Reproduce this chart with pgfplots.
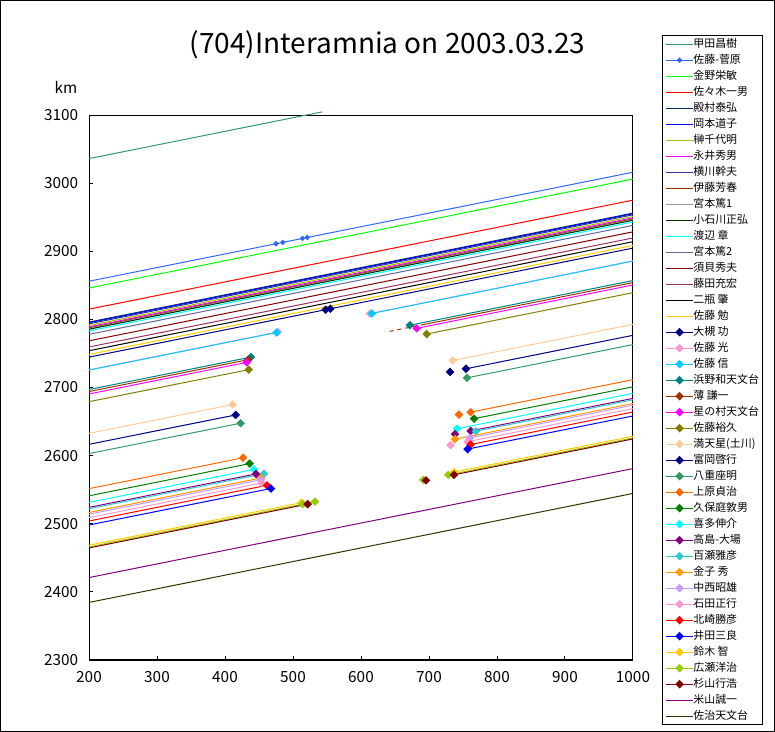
\documentclass[border=0pt]{standalone}
\usepackage{pgfplots}
\pgfplotsset{compat=1.18}
\usepackage{fontspec}
\setmainfont{Noto Sans CJK JP}
\definecolor{c01}{HTML}{339966}
\definecolor{c02}{HTML}{3366FF}
\definecolor{c03}{HTML}{00FF00}
\definecolor{c04}{HTML}{FF0000}
\definecolor{c05}{HTML}{003366}
\definecolor{c06}{HTML}{0000FF}
\definecolor{c07}{HTML}{99CC00}
\definecolor{c08}{HTML}{FF00FF}
\definecolor{c09}{HTML}{333399}
\definecolor{c10}{HTML}{993300}
\definecolor{c11}{HTML}{969696}
\definecolor{c12}{HTML}{003300}
\definecolor{c13}{HTML}{00FFFF}
\definecolor{c14}{HTML}{666699}
\definecolor{c15}{HTML}{800000}
\definecolor{c16}{HTML}{993366}
\definecolor{c17}{HTML}{000000}
\definecolor{c18}{HTML}{FFCC00}
\definecolor{c19}{HTML}{000080}
\definecolor{c20}{HTML}{FF99CC}
\definecolor{c21}{HTML}{00CCFF}
\definecolor{c22}{HTML}{008080}
\definecolor{c23}{HTML}{993300}
\definecolor{c24}{HTML}{FF00FF}
\definecolor{c25}{HTML}{808000}
\definecolor{c26}{HTML}{FFCC99}
\definecolor{c27}{HTML}{000080}
\definecolor{c28}{HTML}{339966}
\definecolor{c29}{HTML}{FF6600}
\definecolor{c30}{HTML}{008000}
\definecolor{c31}{HTML}{00FFFF}
\definecolor{c32}{HTML}{800080}
\definecolor{c33}{HTML}{33CCCC}
\definecolor{c34}{HTML}{FF9900}
\definecolor{c35}{HTML}{CC99FF}
\definecolor{c36}{HTML}{FF99CC}
\definecolor{c37}{HTML}{FF0000}
\definecolor{c38}{HTML}{0000FF}
\definecolor{c39}{HTML}{FFCC00}
\definecolor{c40}{HTML}{99CC00}
\definecolor{c41}{HTML}{800000}
\definecolor{c42}{HTML}{800080}
\definecolor{c43}{HTML}{333300}
\begin{document}
\begin{tikzpicture}
\begin{scope}[shift={(-66.75pt,495pt)}, x=0.75pt, y=-0.75pt]
\draw[line width=0.75pt] (0.5,0.5) rectangle (774.5,731.5);
\node[font=\fontsize{21}{25}\selectfont] at (387.5,45) {(704)Interamnia on 2003.03.23};
\node[font=\fontsize{11.5}{13}\selectfont] at (66,87) {km};
\end{scope}
\begin{axis}[
  at={(0pt,0pt)}, anchor=south west,
  scale only axis, width=408pt, height=408.75pt,
  xmin=200, xmax=1000, ymin=2300, ymax=3100,
  xtick={200,300,...,1000}, ytick={2300,2400,...,3100},
  tick align=inside, xtick pos=left, ytick pos=left, major tick length=3pt,
  tick style={black, line width=0.75pt},
  axis line style={line width=0.75pt},
  clip=false,
  /pgf/number format/1000 sep={}, /pgf/number format/assume math mode=true,
  tick label style={font=\fontsize{11.5}{13}\selectfont, inner sep=0pt},
  yticklabel style={anchor=east, xshift=-8pt},
  xticklabel style={anchor=north, yshift=-8pt},
  every axis plot/.append style={line width=0.75pt},
  dmk/.style={mark=square*, mark size=1.9pt, mark options={rotate=45, solid}},
  legend image code/.code={\draw[mark indices={2}] plot coordinates {(0pt,0pt)(10pt,0pt)(20pt,0pt)};},
  legend cell align=left,
  legend style={at={(1.0524,1.1468)}, anchor=north west, draw=black, line width=0.75pt,
    font=\fontsize{8.2}{9}\selectfont, inner xsep=2.8pt, inner ysep=0.5pt, row sep=0pt,
    nodes={inner sep=0pt, text height=8.5pt, text depth=3.5pt},
    /tikz/every even column/.append style={column sep=2.5pt}},
]
% no-event observers
\addplot[c01] coordinates {(200,3036)(543,3104.6)}; \addlegendentry{甲田昌樹}
\addplot[c02, mark=square*, mark size=1.1pt, mark options={rotate=45}, mark indices={2,3,4,5}] coordinates {(200,2856)(475,2911)(485,2913)(514,2918.8)(521,2920.2)(1000,3016)}; \addlegendentry{佐藤-菅原}
\addplot[c03] coordinates {(200,2846)(1000,3006)}; \addlegendentry{金野栄敏}
\addplot[c04] coordinates {(200,2815)(1000,2975)}; \addlegendentry{佐々木一男}
\addplot[c05] coordinates {(200,2796)(1000,2956)}; \addlegendentry{殿村泰弘}
\addplot[c06] coordinates {(200,2795)(1000,2955)}; \addlegendentry{岡本道子}
\addplot[c07] coordinates {(200,2791)(1000,2951)}; \addlegendentry{榊千代明}
\addplot[c08] coordinates {(200,2789)(1000,2949)}; \addlegendentry{永井秀男}
\addplot[c09] coordinates {(200,2793.5)(1000,2953.5)}; \addlegendentry{横川幹夫}
\addplot[c10] coordinates {(200,2787.5)(1000,2947.5)}; \addlegendentry{伊藤芳春}
\addplot[c11] coordinates {(200,2786.5)(1000,2946.5)}; \addlegendentry{宮本篤1}
\addplot[c12] coordinates {(200,2785.5)(1000,2945.5)}; \addlegendentry{小石川正弘}
\addplot[c13] coordinates {(200,2783)(1000,2943)}; \addlegendentry{渡辺 章}
\addplot[c14] coordinates {(200,2778)(1000,2938)}; \addlegendentry{宮本篤2}
\addplot[c15] coordinates {(200,2768.5)(1000,2928.5)}; \addlegendentry{須貝秀夫}
\addplot[c16] coordinates {(200,2759.5)(1000,2919.5)}; \addlegendentry{藤田充宏}
\addplot[c17] coordinates {(200,2754)(1000,2914)}; \addlegendentry{二瓶 肇}
\addplot[c18] coordinates {(200,2748.5)(1000,2908.5)}; \addlegendentry{佐藤 勉}
% observers with events
\addplot[c19, dmk, mark indices={2}] coordinates {(200,2744.6)(548,2814.2)}; \addlegendentry{大槻 功}
\addplot[c19, dmk, mark indices={1}, forget plot] coordinates {(555,2815.6)(1000,2904.6)};
\addplot[c20, dmk, mark indices={2}] coordinates {(200,2726)(478,2781.6)}; \addlegendentry{佐藤 光}
\addplot[c20, dmk, mark indices={1}, forget plot] coordinates {(613,2808.6)(1000,2886)};
\addplot[c21, dmk, mark indices={2}] coordinates {(200,2725.5)(476,2780.7)}; \addlegendentry{佐藤 信}
\addplot[c21, dmk, mark indices={1}, forget plot] coordinates {(616,2808.7)(1000,2885.5)};
\addplot[c22, dmk, mark indices={2}] coordinates {(200,2697)(438,2744.6)}; \addlegendentry{浜野和天文台}
\addplot[c22, dmk, mark indices={1}, forget plot] coordinates {(672,2791.4)(1000,2857)};
\addplot[c23, dmk, mark indices={2}] coordinates {(200,2694)(434,2740.8)}; \addlegendentry{薄 謙一}
\addplot[c23, dashed, no marks, forget plot] coordinates {(642,2782.4)(694,2792.8)};
\addplot[c23, no marks, forget plot] coordinates {(694,2792.8)(1000,2854)};
\addplot[c24, dmk, mark indices={2}] coordinates {(200,2690.5)(432,2736.9)}; \addlegendentry{星の村天文台}
\addplot[c24, dmk, mark indices={1}, forget plot] coordinates {(682,2786.9)(1000,2850.5)};
\addplot[c25, dmk, mark indices={2}] coordinates {(200,2679.2)(435,2726.2)}; \addlegendentry{佐藤裕久}
\addplot[c25, dmk, mark indices={1}, forget plot] coordinates {(696.6,2778.5)(1000,2839.2)};
\addplot[c26, dmk, mark indices={2}] coordinates {(200,2632.7)(411.3,2675)}; \addlegendentry{満天星(土川)}
\addplot[c26, dmk, mark indices={1}, forget plot] coordinates {(734.8,2739.7)(1000,2792.7)};
\addplot[c27, dmk, mark indices={2}] coordinates {(200,2616.6)(415.7,2659.7)}; \addlegendentry{富岡啓行}
\addplot[c27, dmk, only marks, forget plot] coordinates {(730.9,2722.8)};
\addplot[c27, dmk, mark indices={1}, forget plot] coordinates {(754.4,2727.5)(1000,2776.6)};
\addplot[c28, dmk, mark indices={2}] coordinates {(200,2603)(423,2647.6)}; \addlegendentry{八重座明}
\addplot[c28, dmk, mark indices={1}, forget plot] coordinates {(755.9,2714.2)(1000,2763)};
\addplot[c29, dmk, mark indices={2}] coordinates {(200,2551.5)(426.5,2596.8)}; \addlegendentry{上原貞治}
\addplot[c29, dmk, only marks, forget plot] coordinates {(744.1,2660.3)};
\addplot[c29, dmk, mark indices={1}, forget plot] coordinates {(761.3,2663.8)(1000,2711.5)};
\addplot[c30, dmk, mark indices={2}] coordinates {(200,2541)(436.3,2588.3)}; \addlegendentry{久保庭敦男}
\addplot[c30, dmk, mark indices={1}, forget plot] coordinates {(766.2,2654.2)(1000,2701)};
\addplot[c31, dmk, mark indices={2}] coordinates {(200,2531.3)(442.6,2579.8)}; \addlegendentry{喜多伸介}
\addplot[c31, dmk, mark indices={1}, forget plot] coordinates {(741.2,2639.5)(1000,2691.3)};
\addplot[c32, dmk, mark indices={2}] coordinates {(200,2524)(445.6,2573.1)}; \addlegendentry{高島-大場}
\addplot[c32, dmk, only marks, forget plot] coordinates {(738.2,2631.6)};
\addplot[c32, dmk, mark indices={1}, forget plot] coordinates {(761.3,2636.3)(1000,2684)};
\addplot[c33, dmk, mark indices={2}] coordinates {(200,2522)(457.4,2573.5)}; \addlegendentry{百瀬雅彦}
\addplot[c33, dmk, mark indices={1}, forget plot] coordinates {(769,2635.8)(1000,2682)};
\addplot[c34, dmk, mark indices={2}] coordinates {(200,2516.5)(452.9,2567.1)}; \addlegendentry{金子 秀}
\addplot[c34, dmk, mark indices={1}, forget plot] coordinates {(738.2,2624.1)(1000,2676.5)};
\addplot[c35, dmk, mark indices={2}] coordinates {(200,2514)(452.5,2564.5)}; \addlegendentry{中西昭雄}
\addplot[c35, dmk, mark indices={1}, forget plot] coordinates {(760.3,2626.1)(1000,2674)};
\addplot[c36, dmk, mark indices={2}] coordinates {(200,2509)(454,2559.8)}; \addlegendentry{石田正行}
\addplot[c36, dmk, only marks, forget plot] coordinates {(731.8,2615.4)};
\addplot[c36, dmk, mark indices={1}, forget plot] coordinates {(756.8,2620.4)(1000,2669)};
\addplot[c37, dmk, mark indices={2}] coordinates {(200,2504)(461.8,2556.4)}; \addlegendentry{北崎勝彦}
\addplot[c37, dmk, mark indices={1}, forget plot] coordinates {(761.3,2616.3)(1000,2664)};
\addplot[c38, dmk, mark indices={2}] coordinates {(200,2498.2)(467.6,2551.7)}; \addlegendentry{井田三良}
\addplot[c38, dmk, mark indices={1}, forget plot] coordinates {(756.8,2609.6)(1000,2658.2)};
\addplot[c39, dmk, mark indices={2}] coordinates {(200,2468.5)(512.7,2531)}; \addlegendentry{鈴木 智}
\addplot[c39, dmk, mark indices={1}, forget plot] coordinates {(736.8,2575.9)(1000,2628.5)};
\addplot[c40, dmk, mark indices={2,3}] coordinates {(200,2466)(514.2,2528.8)(532.4,2532.5)}; \addlegendentry{広瀬洋治}
\addplot[c40, dmk, only marks, forget plot] coordinates {(691.6,2564.3)};
\addplot[c40, dmk, mark indices={1}, forget plot] coordinates {(728.4,2571.7)(1000,2626)};
\addplot[c41, dmk, mark indices={2}] coordinates {(200,2464.5)(521.5,2528.8)}; \addlegendentry{杉山行浩}
\addplot[c41, dmk, only marks, forget plot] coordinates {(695.6,2563.6)};
\addplot[c41, dmk, mark indices={1}, forget plot] coordinates {(736.8,2571.9)(1000,2624.5)};
\addplot[c42] coordinates {(200,2421)(1000,2581)}; \addlegendentry{米山誠一}
\addplot[c43] coordinates {(200,2384.5)(1000,2544.5)}; \addlegendentry{佐治天文台}
\end{axis}
\end{tikzpicture}
\end{document}
